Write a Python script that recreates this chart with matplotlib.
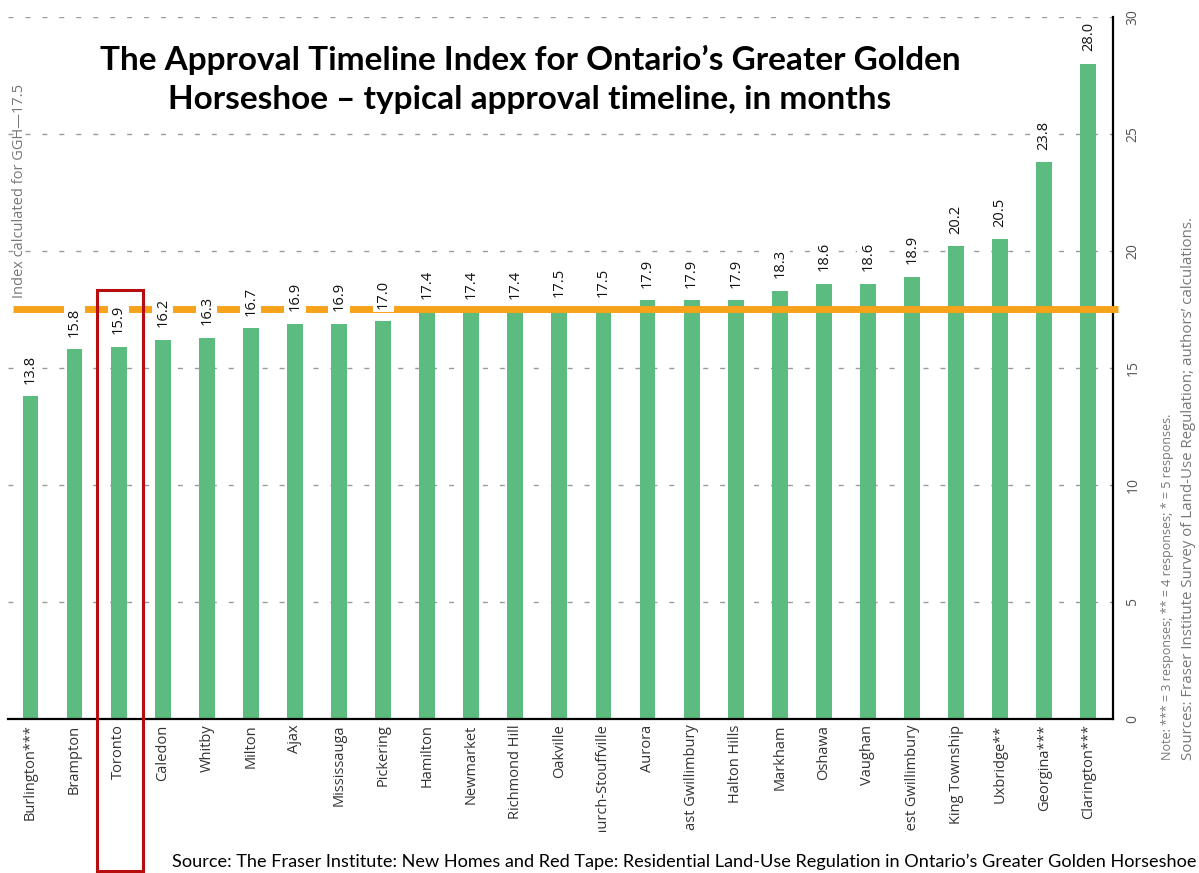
import matplotlib.pyplot as plt
from matplotlib.patches import Rectangle
from matplotlib.transforms import Bbox

municipalities = ['Burlington***', 'Brampton', 'Toronto', 'Caledon', 'Whitby', 'Milton', 'Ajax',
                  'Mississauga', 'Pickering', 'Hamilton', 'Newmarket', 'Richmond Hill', 'Oakville',
                  'Whitchurch-Stouffville', 'Aurora', 'East Gwillimbury', 'Halton Hills', 'Markham',
                  'Oshawa', 'Vaughan', 'Bradford West Gwillimbury', 'King Township', 'Uxbridge**',
                  'Georgina***', 'Clarington***']
months = [13.8, 15.8, 15.9, 16.2, 16.3, 16.7, 16.9, 16.9, 17.0, 17.4, 17.4, 17.4, 17.5,
          17.5, 17.9, 17.9, 17.9, 18.3, 18.6, 18.6, 18.9, 20.2, 20.5, 23.8, 28.0]
ggh_index = 17.5
y_ticks = [0, 5, 10, 15, 20, 25, 30]

W, H = 1199, 873
GREEN = '#5cbc7f'
ORANGE = '#f7a21b'


def px(x, y):
    # pixel position (from top-left) -> figure fraction
    return x / W, 1 - y / H


fig = plt.figure(figsize=(W / 100, H / 100), dpi=100)
ax = fig.add_axes([8 / W, 1 - 719 / H, (1113 - 8) / W, (719 - 17) / H])

x = list(range(len(months)))
ax.bar(x, months, width=0.36, color=GREEN, zorder=2)
ax.set_xlim(-0.51, 24.56)
ax.set_ylim(0, 30)

# GGH index line (runs a little past the right spine)
ax.plot([-0.40, 24.67], [ggh_index, ggh_index], color=ORANGE, lw=5, zorder=3,
        clip_on=False, solid_capstyle='butt')

for xi, v in zip(x, months):
    ax.annotate(f'{v:.1f}', (xi, v), xytext=(0, 9), textcoords='offset points',
                rotation=90, ha='center', va='bottom', fontsize=10.5, color='#111111',
                family='Open Sans', zorder=4,
                bbox=dict(facecolor='white', edgecolor='none', pad=2.2))

ax.yaxis.tick_right()
ax.set_yticks(y_ticks)
ax.set_yticklabels([str(t) for t in y_ticks], rotation=90, fontsize=10, color='#555555',
                   family='Open Sans', va='center')
ax.tick_params(axis='y', length=0, pad=9)
ax.yaxis.grid(True, color='#9a9a9a', lw=1, linestyle=(0, (3.6, 8.6)), zorder=0)
ax.set_axisbelow(True)

ax.set_xticks(x)
ax.set_xticklabels(municipalities, rotation=90, fontsize=10.5, color='#333333', family='Open Sans')
ax.tick_params(axis='x', length=0, pad=4)
clip = Bbox.from_extents(0, H - 832, W, H)
for lbl in ax.get_xticklabels():
    lbl.set_clip_box(clip)
    lbl.set_clip_on(True)

for s in ['top', 'left']:
    ax.spines[s].set_visible(False)
for s in ['bottom', 'right']:
    ax.spines[s].set_linewidth(1.6)
    ax.spines[s].set_color('black')

# titles and notes
fig.text(*px(530, 60), 'The Approval Timeline Index for Ontario’s Greater Golden',
         ha='center', va='center', fontsize=24, fontweight='bold', family='Lato')
fig.text(*px(530, 100), 'Horseshoe – typical approval timeline, in months',
         ha='center', va='center', fontsize=24, fontweight='bold', family='Lato')
fig.text(*px(20, 298), 'Index calculated for GGH—17.5', rotation=90, ha='center', va='bottom',
         fontsize=10.5, color='#777777', family='Open Sans')
fig.text(*px(1167, 760), 'Note: *** = 3 responses; ** = 4 responses; * = 5 responses.',
         rotation=90, ha='center', va='bottom', fontsize=9, color='#777777', family='Open Sans')
fig.text(*px(1189, 760), 'Sources: Fraser Institute Survey of Land-Use Regulation; authors’ calculations.',
         rotation=90, ha='center', va='bottom', fontsize=10.8, color='#777777', family='Open Sans')
fig.text(*px(1197, 862), 'Source: The Fraser Institute: New Homes and Red Tape: Residential Land-Use '
                         'Regulation in Ontario’s Greater Golden Horseshoe',
         ha='right', va='center', fontsize=13.1, color='black', family='Lato')

# highlight Toronto
x0, y0 = px(97, 871)
fig.add_artist(Rectangle((x0, y0), 46 / W, (871 - 290) / H, transform=fig.transFigure,
                         fill=False, edgecolor='#b80d0d', lw=2.2, zorder=10))

fig.savefig('out.png', dpi=100)
